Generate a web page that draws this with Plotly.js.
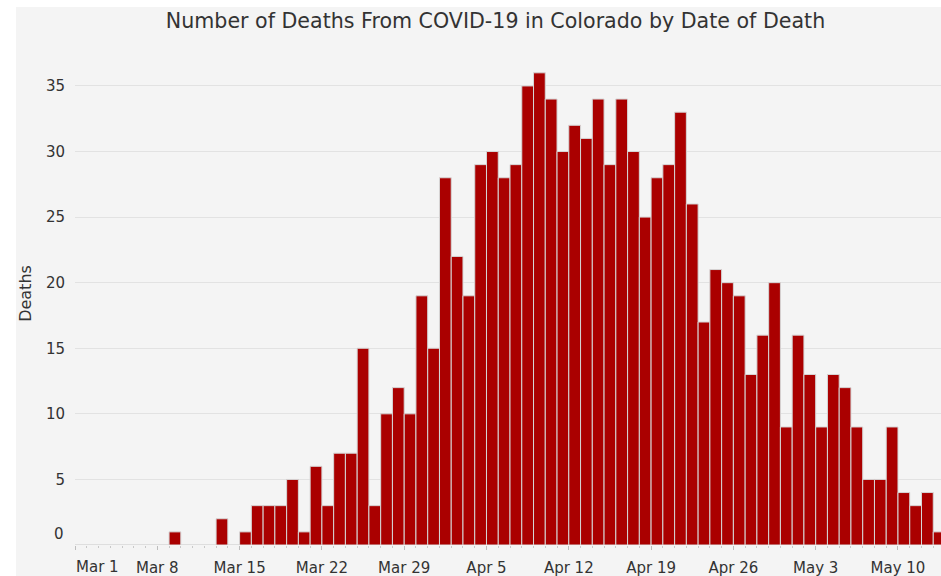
<!DOCTYPE html>
<html>
<head>
<meta charset="utf-8">
<script src="https://cdn.plot.ly/plotly-3.0.1.min.js"></script>
<style>
  html, body { margin: 0; padding: 0; background: #ffffff; width: 941px; height: 576px; overflow: hidden; }
  #chart { position: absolute; left: 16px; top: 7px; width: 925px; height: 569px; }
</style>
</head>
<body>
<div id="chart"></div>
<script>
const dates = [
  "2020-03-01","2020-03-02","2020-03-03","2020-03-04","2020-03-05","2020-03-06","2020-03-07","2020-03-08","2020-03-09","2020-03-10",
  "2020-03-11","2020-03-12","2020-03-13","2020-03-14","2020-03-15","2020-03-16","2020-03-17","2020-03-18","2020-03-19","2020-03-20",
  "2020-03-21","2020-03-22","2020-03-23","2020-03-24","2020-03-25","2020-03-26","2020-03-27","2020-03-28","2020-03-29","2020-03-30",
  "2020-03-31",
  "2020-04-01","2020-04-02","2020-04-03","2020-04-04","2020-04-05","2020-04-06","2020-04-07","2020-04-08","2020-04-09","2020-04-10",
  "2020-04-11","2020-04-12","2020-04-13","2020-04-14","2020-04-15","2020-04-16","2020-04-17","2020-04-18","2020-04-19","2020-04-20",
  "2020-04-21","2020-04-22","2020-04-23","2020-04-24","2020-04-25","2020-04-26","2020-04-27","2020-04-28","2020-04-29","2020-04-30",
  "2020-05-01","2020-05-02","2020-05-03","2020-05-04","2020-05-05","2020-05-06","2020-05-07","2020-05-08","2020-05-09","2020-05-10",
  "2020-05-11","2020-05-12","2020-05-13"
];
const deaths = [
  0,0,0,0,0,0,0,0,1,0,
  0,0,2,0,1,3,3,3,5,1,
  6,3,7,7,15,3,10,12,10,19,
  15,
  28,22,19,29,30,28,29,35,36,34,
  30,32,31,34,29,34,30,25,28,29,
  33,26,17,21,20,19,13,16,20,9,
  16,13,9,13,12,9,5,5,9,4,
  3,4,1
];
const weekTicks = ["2020-03-01","2020-03-08","2020-03-15","2020-03-22","2020-03-29","2020-04-05","2020-04-12","2020-04-19","2020-04-26","2020-05-03","2020-05-10"];
const weekLabels = ["Mar 1","Mar 8","Mar 15","Mar 22","Mar 29","Apr 5","Apr 12","Apr 19","Apr 26","May 3","May 10"];
const yTicks = [5,10,15,20,25,30,35];
const yZeroLabel = "0";
const chartTitle = "Number of Deaths From COVID-19 in Colorado by Date of Death";
const yTitle = "Deaths";

const DAY = 86400000;
const font = "DejaVu Sans, Verdana, sans-serif";
const textColor = "#333333";

const trace = {
  type: "bar",
  x: dates,
  y: deaths,
  xperiod: DAY,
  xperiodalignment: "middle",
  width: DAY,
  marker: { color: "#aa0000", line: { color: "#d6d6d6", width: 1 } },
  hoverinfo: "skip"
};

const layout = {
  width: 925,
  height: 569,
  paper_bgcolor: "#f4f4f4",
  plot_bgcolor: "#f4f4f4",
  margin: { l: 59, r: 0, t: 35, b: 31 },
  showlegend: false,
  bargap: 0,
  title: {
    text: chartTitle,
    font: { family: font, size: 20.6, color: textColor },
    xref: "container", x: 0.5184, xanchor: "center",
    yref: "container", y: 0.9755, yanchor: "middle"
  },
  xaxis: {
    type: "date",
    range: ["2020-03-01", "2020-05-13 15:48"],
    tickmode: "array",
    tickvals: weekTicks,
    ticktext: weekLabels.map((t, i) => i === 0 ? "" : t),
    ticks: "outside",
    ticklen: 4,
    tickwidth: 1,
    tickcolor: "#bdbdbd",
    ticklabelstandoff: 5,
    tickfont: { family: font, size: 15, color: textColor },
    minor: { dtick: DAY, tick0: "2020-03-01", ticks: "outside", ticklen: 2, tickwidth: 1, tickcolor: "#c8c8c8", showgrid: false },
    showgrid: false,
    zeroline: false,
    showline: false,
    fixedrange: true
  },
  yaxis: {
    range: [0, 38.35],
    tickmode: "array",
    tickvals: yTicks,
    ticks: "",
    ticklabelstandoff: 9,
    tickfont: { family: font, size: 15, color: textColor },
    showgrid: true,
    gridcolor: "#e2e2e2",
    gridwidth: 1,
    zeroline: false,
    showline: false,
    title: { text: yTitle, font: { family: font, size: 16, color: textColor }, standoff: 12 },
    fixedrange: true
  },
  annotations: [
    {
      text: weekLabels[0], xref: "x", x: weekTicks[0], xanchor: "left",
      yref: "paper", y: 0, yanchor: "middle", yshift: -22, xshift: -1,
      showarrow: false, font: { family: font, size: 15, color: textColor }
    },
    {
      text: yZeroLabel, xref: "paper", x: 0, xanchor: "right", xshift: -9,
      yref: "y", y: 0, yanchor: "middle", yshift: 11,
      showarrow: false, font: { family: font, size: 15, color: textColor }
    }
  ]
};

Plotly.newPlot("chart", [trace], layout, { staticPlot: true, displayModeBar: false });
</script>
</body>
</html>
